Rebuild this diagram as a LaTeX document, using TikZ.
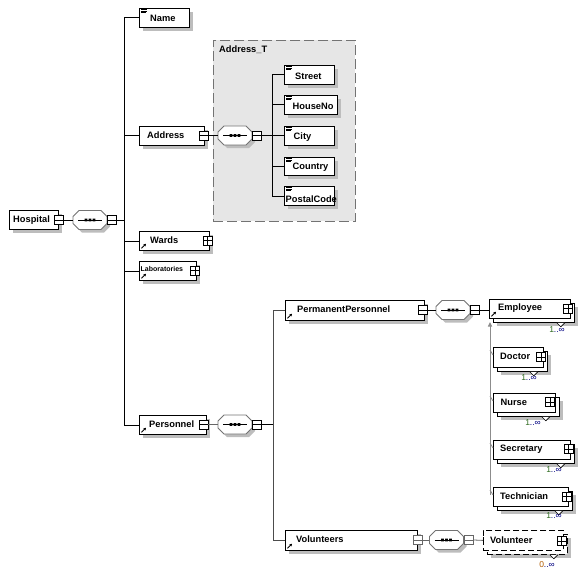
\documentclass[tikz,border=0pt]{standalone}
\usepackage{fontspec}
\setmainfont{Liberation Sans}
\usetikzlibrary{shadows,arrows.meta}
\definecolor{shd}{HTML}{BDBDBD}
\definecolor{tgray}{HTML}{E6E6E6}
\definecolor{card}{HTML}{000080}
\definecolor{cardone}{HTML}{2E6B1F}
\definecolor{cardzero}{HTML}{B05A00}
\tikzset{
 elbox/.style={draw=black, fill=white, line width=0.8pt, inner sep=0, anchor=north west},
 shbox/.style={elbox, drop shadow={shadow xshift=4pt, shadow yshift=-4pt, fill=shd, opacity=1}},
 lbl/.style={font=\fontsize{9.3}{10}\selectfont\bfseries, inner sep=0, anchor=west},
 cardl/.style={font=\fontsize{8.5}{9}\selectfont, text=card, inner sep=0},
 sq/.style={draw, fill=white, line width=0.9pt, minimum size=9pt, inner sep=0},
 mbox/.style={sq, path picture={\draw[line width=0.7pt] (path picture bounding box.west) -- (path picture bounding box.east);}},
 pbox/.style={sq, path picture={\draw[line width=0.7pt] (path picture bounding box.west) -- (path picture bounding box.east) (path picture bounding box.north) -- (path picture bounding box.south);}},
 conn/.style={line width=0.8pt, draw=black},
 subl/.style={line width=1pt, draw=black!45},
}
\newcommand\elem[6][]{\node[shbox, minimum width=#5pt, minimum height=#6pt, #1] (#2) at (#3,#4) {};}
\newcommand\stackel[6][]{%
 \node[shbox, minimum width=#5pt, minimum height=#6pt, #1] (#2b) at (#3+4,#4+4) {};
 \draw[line width=0.6pt, fill=white] ([shift={(-18,0)}]#2b.south east) -- ++(4,4) -- ++(4,-4);
 \node[elbox, minimum width=#5pt, minimum height=#6pt, #1] (#2) at (#3,#4) {};}
\newcommand\simpleicon[1]{%
 \foreach \d/\l in {1.6/5.5,3.1/5.5,4.6/4.5} {\draw[line width=0.45pt] ([shift={(2,\d)}]#1.north west) -- ++(\l,0);}}
\newcommand\reficon[1]{%
 \draw[line width=0.9pt, -{Triangle[length=2.4pt,width=2.8pt]}] ([shift={(2.5,-2.5)}]#1.south west) -- ++(4.5,-4.5);}
\newcommand\seqc[4]{%
 \node[minimum width=34pt, minimum height=19pt, inner sep=0] (#1) at (#2,#3) {};
 \begin{scope}[shift={(#2,#3)}]
 \fill[shd] (-8,-6.5) -- (14,-6.5) -- (20,-0.5) -- (20,6.5) -- (14,12.5) -- (-8,12.5) -- (-14,6.5) -- (-14,-0.5) -- cycle;
 \draw[draw=#4, fill=white, line width=0.8pt] (-11,-9.5) -- (11,-9.5) -- (17,-3.5) -- (17,3.5) -- (11,9.5) -- (-11,9.5) -- (-17,3.5) -- (-17,-3.5) -- cycle;
 \draw[line width=0.8pt] (-12,0) -- (12,0);
 \fill (-5.3,-1.3) rectangle (-2.7,1.3) (-1.3,-1.3) rectangle (1.3,1.3) (2.7,-1.3) rectangle (5.3,1.3);
 \end{scope}}
\begin{document}
\begin{tikzpicture}[x=1pt,y=-1pt]
\useasboundingbox (0,0) rectangle (585,572);

% Address_T complex type frame
\node[draw=black!55, dash pattern=on 10pt off 4pt, fill=tgray, line width=0.9pt, minimum width=142pt, minimum height=181pt, anchor=north west, inner sep=0] (addrT) at (213,40) {};
\node[lbl] (addrT-t) at (219,50) {Address\_T};

% Hospital
\elem{hosp}{9}{210}{49}{19}
\node[lbl] (hosp-t) at (13,220) {Hospital};
\node[mbox] (hosp-m) at (58.5,220) {};
\seqc{s1}{90}{220}{black!55}
\node[mbox] (s1q) at (111.5,220) {};
\draw[conn] (hosp-m.east) -- (s1.west);
\coordinate (trTop) at (124,17.5);
\coordinate (trBot) at (124,424.5);
\draw[conn] (trTop) -- (trBot);
\draw[conn] (s1q.east) -- (s1q.east -| trTop);

% Name
\elem{name}{139}{8}{50}{19}
\simpleicon{name}
\node[lbl] (name-t) at (150,18.5) {Name};
\draw[conn] (name.west -| trTop) -- (name.west);

% Address
\elem{addr}{139}{126}{65}{19}
\node[lbl] (addr-t) at (147,135.5) {Address};
\node[mbox] (addr-m) at (203.5,135.5) {};
\draw[conn] (addr.west -| trTop) -- (addr.west);
\seqc{s2}{235}{135.5}{black!55}
\node[mbox] (s2q) at (256.5,135.5) {};
\draw[conn] (addr-m.east) -- (s2.west);
\coordinate (v2Top) at (272,74.5);
\coordinate (v2Bot) at (272,195.5);
\draw[conn] (v2Top) -- (v2Bot);
\draw[conn] (s2q.east) -- (s2q.east -| v2Top);

\elem{street}{284}{65}{50}{19}
\simpleicon{street}
\node[lbl] (street-t) at (295,76) {Street};
\elem{house}{284}{95}{53}{19}
\simpleicon{house}
\node[lbl] (house-t) at (292.5,106) {HouseNo};
\elem{city}{284}{126}{50}{19}
\simpleicon{city}
\node[lbl] (city-t) at (293.5,137) {City};
\elem{country}{284}{157}{50}{18}
\simpleicon{country}
\node[lbl] (country-t) at (292.5,167.5) {Country};
\elem{postal}{284}{186}{50}{19}
\simpleicon{postal}
\node[lbl] (postal-t) at (285.5,199.5) {PostalCode};
\foreach \n in {street,house,city,country,postal} {\draw[conn] (\n.west -| v2Top) -- (\n.west);}

% Wards, Laboratories
\elem{wards}{139}{231}{70}{19}
\reficon{wards}
\node[lbl] (wards-t) at (150,240.5) {Wards};
\node[pbox] (wards-p) at (207.5,240.5) {};
\draw[conn] (wards.west -| trTop) -- (wards.west);
\elem{labs}{139}{261}{57}{19}
\reficon{labs}
\node[lbl, font=\fontsize{7}{8}\selectfont\bfseries] (labs-t) at (140.5,268.5) {Laboratories};
\node[pbox] (labs-p) at (195,270.5) {};
\draw[conn] (labs.west -| trTop) -- (labs.west);

% Personnel
\elem{pers}{139}{415}{67}{19}
\reficon{pers}
\node[lbl] (pers-t) at (149,424) {Personnel};
\node[mbox] (pers-m) at (203.5,424.5) {};
\draw[conn] (pers.west -| trTop) -- (pers.west);
\seqc{s3}{235}{424.5}{black!55}
\node[mbox] (s3q) at (256.5,424.5) {};
\draw[conn, draw=black!60] (pers-m.east) -- (s3.west);
\coordinate (v3Top) at (273,310);
\coordinate (v3Bot) at (273,540);
\draw[conn, draw=black!70] (v3Top) -- (v3Bot);
\draw[conn] (s3q.east) -- (s3q.east -| v3Top);

% PermanentPersonnel
\elem{perm}{285}{300}{139}{20}
\reficon{perm}
\node[lbl] (perm-t) at (297,309) {PermanentPersonnel};
\node[mbox] (perm-m) at (423,310) {};
\draw[conn, draw=black!70] (perm.west -| v3Top) -- (perm.west);
\seqc{s4}{453}{310}{black!55}
\node[mbox] (s4q) at (474.5,310) {};
\draw[conn] (perm-m.east) -- (s4.west);

% Employee and substitutions
\stackel{emp}{489}{299}{81}{19}
\reficon{emp}
\node[lbl] (emp-t) at (498,308.5) {Employee};
\node[pbox] (emp-p) at (568,308.5) {};
\node[cardl] (emp-c) at (557,330) {\textcolor{cardone}{1}..∞};
\draw[conn] (s4q.east) -- (s4q.east -| emp.west);

\stackel{doc}{493}{347}{50}{20}
\node[lbl] (doc-t) at (500,356.5) {Doctor};
\node[pbox] (doc-p) at (541,357) {};
\node[cardl] (doc-c) at (529,377.5) {\textcolor{cardone}{1}..∞};

\stackel{nurse}{493}{393}{62}{19}
\node[lbl] (nurse-t) at (500.5,402.5) {Nurse};
\node[pbox] (nurse-p) at (550,402) {};
\node[cardl] (nurse-c) at (533,423) {\textcolor{cardone}{1}..∞};

\stackel{sec}{493}{440}{77}{19}
\node[lbl] (sec-t) at (500,449) {Secretary};
\node[pbox] (sec-p) at (568.5,449) {};
\node[cardl] (sec-c) at (554,470) {\textcolor{cardone}{1}..∞};

\stackel{tech}{493}{487}{75}{19}
\node[lbl] (tech-t) at (500,496) {Technician};
\node[pbox] (tech-p) at (566.5,496.5) {};
\node[cardl] (tech-c) at (554,516) {\textcolor{cardone}{1}..∞};

\coordinate (subTop) at (490,322);
\coordinate (subBot) at (490,495);
\draw[subl, {Triangle[length=4.5pt,width=4pt]}-] (subTop) -- (subBot);
\foreach \n in {doc,nurse,sec,tech} {\draw[line width=0.8pt, draw=black!45] (\n.north west -| subTop) ++(0,3) -- ([yshift=-8pt]\n.north west);}

% Volunteers
\elem{vols}{285}{530}{132}{20}
\reficon{vols}
\node[lbl] (vols-t) at (296,539.5) {Volunteers};
\node[mbox, draw=black!60] (vols-m) at (417.5,540) {};
\draw[conn, draw=black!70] (vols.west -| v3Top) -- (vols.west);
\seqc{s5}{446.5}{540}{black!55}
\node[mbox, draw=black!60] (s5q) at (469,540) {};
\draw[conn, draw=black!60] (vols-m.east) -- (s5.west);

\stackel[dash pattern=on 6pt off 3pt]{vol}{483}{530}{80}{20}
\node[lbl] (vol-t) at (490,540) {Volunteer};
\node[pbox] (vol-p) at (561.5,541) {};
\node[cardl] (vol-c) at (547,565) {\textcolor{cardzero}{0}..∞};
\draw[conn, draw=black!60] (s5q.east) -- (vol.west);
\draw[line width=0.9pt] ([yshift=3.5pt]vol.west) -- ([yshift=-3.5pt]vol.west);
\end{tikzpicture}
\end{document}
